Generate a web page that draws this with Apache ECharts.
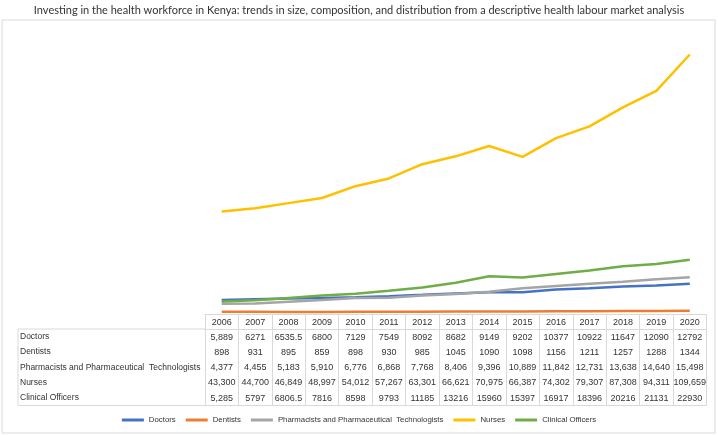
<!DOCTYPE html>
<html>
<head>
<meta charset="utf-8">
<script src="https://cdn.jsdelivr.net/npm/echarts@6/dist/echarts.min.js"></script>
<style>
  html, body { margin: 0; padding: 0; background: #fff; }
  #chart { width: 718px; height: 436px; }
</style>
</head>
<body>
<div id="chart"></div>
<script>
// data, as printed in the data table under the chart
const years = ['2006', '2007', '2008', '2009', '2010', '2011', '2012', '2013', '2014', '2015', '2016', '2017', '2018', '2019', '2020'];
const doctors = ['5,889', '6271', '6535.5', '6800', '7129', '7549', '8092', '8682', '9149', '9202', '10377', '10922', '11647', '12090', '12792'];
const dentists = ['898', '931', '895', '859', '898', '930', '985', '1045', '1090', '1098', '1156', '1211', '1257', '1288', '1344'];
const pharmacists = ['4,377', '4,455', '5,183', '5,910', '6,776', '6,868', '7,768', '8,406', '9,396', '10,889', '11,842', '12,731', '13,638', '14,640', '15,498'];
const nurses = ['43,300', '44,700', '46,849', '48,997', '54,012', '57,267', '63,301', '66,621', '70,975', '66,387', '74,302', '79,307', '87,308', '94,311', '109,659'];
const clinicalOfficers = ['5,285', '5797', '6806.5', '7816', '8598', '9793', '11185', '13216', '15960', '15397', '16917', '18396', '20216', '21131', '22930'];

const seriesNames = ['Doctors', 'Dentists', 'Pharmacists and Pharmaceutical  Technologists', 'Nurses', 'Clinical Officers'];
const seriesRows = [doctors, dentists, pharmacists, nurses, clinicalOfficers];
const colors = ['#4472C4', '#ED7D31', '#A5A5A5', '#FFC000', '#70AD47'];

const toNumber = s => parseFloat(s.replace(/,/g, ''));

const chart = echarts.init(document.getElementById('chart'));

// table layout
const headerH = 15;
const rowH = 15.3;
const tableFont = 'Liberation Sans, Arial, sans-serif';
const lineColor = '#d9d9d9';

const xAxes = [];
// year header row, also carries the plot axis
xAxes.push({
  type: 'category',
  data: years,
  position: 'bottom',
  boundaryGap: true,
  axisLine: { show: true, lineStyle: { color: lineColor } },
  axisTick: { show: true, length: headerH, lineStyle: { color: lineColor } },
  axisLabel: { interval: 0, margin: 4, fontSize: 9, color: '#333', fontFamily: tableFont }
});
// one axis per table row
seriesRows.forEach((row, i) => {
  xAxes.push({
    type: 'category',
    data: years,
    position: 'bottom',
    offset: headerH + rowH * i,
    boundaryGap: true,
    axisLine: { show: i === 0, lineStyle: { color: lineColor } },
    axisTick: { show: i === 0, length: rowH * seriesRows.length, lineStyle: { color: lineColor } },
    axisLabel: {
      interval: 0, margin: 3.6, fontSize: 9, color: '#333', fontFamily: tableFont,
      formatter: (v, idx) => row[idx]
    }
  });
});
// bottom border of the table
xAxes.push({
  type: 'category',
  data: years,
  position: 'bottom',
  offset: headerH + rowH * seriesRows.length,
  axisLine: { show: true, lineStyle: { color: lineColor } },
  axisTick: { show: false },
  axisLabel: { show: false }
});

const tableTop = 314;
const tableLeft = 18;
const gridLeft = 205;
const graphics = [
  // outer frame
  { type: 'rect', shape: { x: 2, y: 20, width: 713, height: 413 }, style: { fill: 'none', stroke: lineColor, lineWidth: 1 }, silent: true },
  // row-label column borders
  { type: 'line', shape: { x1: tableLeft, y1: tableTop + headerH, x2: gridLeft, y2: tableTop + headerH }, style: { stroke: lineColor, lineWidth: 1 } },
  { type: 'line', shape: { x1: tableLeft, y1: tableTop + headerH + rowH * 5, x2: gridLeft, y2: tableTop + headerH + rowH * 5 }, style: { stroke: lineColor, lineWidth: 1 } },
  { type: 'line', shape: { x1: tableLeft, y1: tableTop + headerH, x2: tableLeft, y2: tableTop + headerH + rowH * 5 }, style: { stroke: lineColor, lineWidth: 1 } }
];
seriesNames.forEach((name, i) => {
  graphics.push({
    type: 'text',
    left: tableLeft + 2,
    top: tableTop + headerH + rowH * i + rowH / 2 - 4.5,
    style: { text: name, font: '8.5px ' + tableFont, fill: '#333' }
  });
});

const option = {
  animation: false,
  color: colors,
  title: {
    text: 'Investing in the health workforce in Kenya: trends in size, composition, and distribution from a descriptive health labour market analysis',
    left: 'center',
    top: 0,
    textStyle: { fontSize: 11, fontWeight: 'normal', color: '#333', fontFamily: 'Lato, sans-serif' }
  },
  legend: {
    bottom: 7,
    left: 'center',
    itemWidth: 22,
    itemHeight: 3,
    itemGap: 10,
    icon: 'rect',
    textStyle: { fontSize: 7.8, color: '#333', fontFamily: tableFont },
    data: seriesNames
  },
  grid: { left: gridLeft, right: 11.5, top: 30, bottom: 122 },
  xAxis: xAxes,
  yAxis: {
    type: 'value',
    min: 0,
    max: 120000,
    show: false,
    splitLine: { show: false }
  },
  graphic: graphics,
  series: seriesNames.map((name, i) => ({
    name: name,
    type: 'line',
    xAxisIndex: 0,
    data: seriesRows[i].map(toNumber),
    symbol: 'none',
    lineStyle: { width: 2.5 }
  }))
};

chart.setOption(option);
</script>
</body>
</html>
